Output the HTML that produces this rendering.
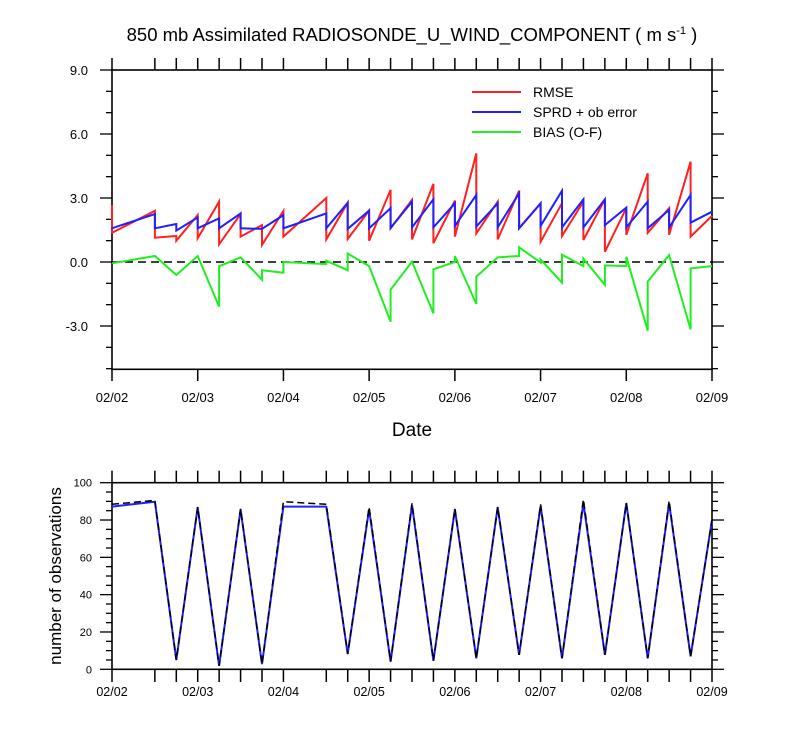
<!DOCTYPE html>
<html><head><meta charset="utf-8"><style>
html,body{margin:0;padding:0;background:#fff;}
svg{display:block;font-family:"Liberation Sans",sans-serif;}
</style></head><body>
<svg id="chart" width="800" height="750" xmlns="http://www.w3.org/2000/svg">
<text x="412" y="41" font-size="18.5" text-anchor="middle">850 mb Assimilated RADIOSONDE_U_WIND_COMPONENT ( m s<tspan dy="-7" font-size="11">-1</tspan><tspan dy="7"> )</tspan></text>
<text x="412" y="436" font-size="19" text-anchor="middle">Date</text>
<text x="0" y="0" font-size="17" text-anchor="middle" transform="translate(61,576) rotate(-90)">number of observations</text>
<g>
<line x1="472" y1="92" x2="521" y2="92" stroke="#ff2020" stroke-width="2"/>
<text x="533" y="97" font-size="14">RMSE</text>
<line x1="472" y1="112" x2="521" y2="112" stroke="#2020ff" stroke-width="2"/>
<text x="533" y="117" font-size="14">SPRD + ob error</text>
<line x1="472" y1="132" x2="521" y2="132" stroke="#20ee20" stroke-width="2"/>
<text x="533" y="137" font-size="14">BIAS (O-F)</text>
</g>
</svg>
<script>
const timeIdx=[0,2,3,4,5,6,7,8,10,11,12,13,14,15,16,17,18,19,20,21,22,23,24,25,26,27,28];
const rmseIn=[2.67,2.4,1.22,2.2,2.83,2.25,1.73,2.39,3.0,2.78,2.41,3.38,2.91,3.66,2.88,5.09,2.83,3.34,2.75,2.75,2.83,2.94,2.52,4.16,2.52,4.7,2.16];
const rmseOut=[1.37,1.14,1.0,1.11,0.83,1.19,0.8,1.19,1.06,1.08,1.0,1.58,1.06,0.88,1.19,1.34,1.06,1.58,0.95,1.22,1.03,0.48,1.27,1.37,1.27,1.19,2.16];
const sprdIn=[1.6,2.25,1.78,2.09,2.05,2.28,1.55,2.2,2.28,2.78,2.41,2.52,2.83,2.94,2.75,3.14,2.75,3.22,2.75,3.34,2.94,2.94,2.55,2.83,2.44,3.14,2.36];
const sprdOut=[1.58,1.58,1.47,1.58,1.58,1.58,1.55,1.58,1.58,1.55,1.58,1.6,1.62,1.62,1.69,1.66,1.62,1.58,1.69,1.62,1.62,1.73,1.62,1.58,1.62,1.84,2.36];
const biasIn=[-0.06,0.28,-0.61,0.28,-2.09,0.22,-0.83,-0.5,-0.1,-0.39,-0.19,-2.8,0.02,-2.41,0.0,-1.97,0.22,0.28,-0.03,-0.97,-0.19,-1.08,-0.19,-3.22,0.33,-3.16,-0.19];
const biasOut=[-0.06,0.28,-0.61,0.28,-0.2,0.22,-0.39,0.0,0.06,0.4,-0.19,-1.3,0.02,-0.34,0.28,-0.69,0.22,0.69,0.12,0.34,0.16,-0.16,0.25,-0.92,0.33,-0.3,-0.19];
const obsUsed=[87.2,89.8,5,86.8,1.8,85.7,2.8,87.2,87.2,8.2,85.7,4.1,88,4.6,85.7,5.9,86.8,7.7,87.5,5.9,89,7.7,89,5.9,89,6.9,80];
const obsTotal=[88.4,90.5,5,87,1.8,86,2.8,89.8,88.4,8.2,87,4.1,89,4.6,86,5.9,87,7.7,88.4,5.9,91.1,7.7,89.2,5.9,90.3,6.9,80];
const dayLabels=["02/02","02/03","02/04","02/05","02/06","02/07","02/08","02/09"];
const topTicks=[9,6,3,0,-3];
const botTicks=[0,20,40,60,80,100];

const svg=document.getElementById('chart');
const NS='http://www.w3.org/2000/svg';
const X0=112,X1=712;
function xs(i){return X0+(X1-X0)*i/28;}
function yTop(v){return 262-(v)*(64/3);}
function yBot(v){return 669.3-v*1.866;}
function mk(tag,attrs,parent){const e=document.createElementNS(NS,tag);for(const k in attrs)e.setAttribute(k,attrs[k]);(parent||svg).appendChild(e);return e;}

function frame(name,yT,yB){
  const g=mk('g',{});
  
  
  mk('rect',{x:X0,y:yT,width:X1-X0,height:yB-yT,fill:'none',stroke:'#000','stroke-width':1.6},g);
  timeIdx.forEach(i=>{mk('line',{x1:xs(i),y1:yT,x2:xs(i),y2:yT-12,stroke:'#000','stroke-width':1.5},g);});
  return g;
}
const gT=frame('top-plot-frame',70,369.3);
for(let v=-5;v<=9;v++){
  const len=(v%3===0)?12:6;
  mk('line',{x1:X0,y1:yTop(v),x2:X0-len,y2:yTop(v),stroke:'#000','stroke-width':1.3},gT);
  mk('line',{x1:X1,y1:yTop(v),x2:X1+len,y2:yTop(v),stroke:'#000','stroke-width':1.3},gT);
}
topTicks.forEach(v=>{
  const t=mk('text',{x:88,y:yTop(v)+5,'font-size':13,'text-anchor':'end'});
  
  
  t.textContent=v.toFixed(1);
});
dayLabels.forEach((d,k)=>{
  const x=X0+k*(X1-X0)/7;
  mk('line',{x1:x,y1:369.3,x2:x,y2:381,stroke:'#000','stroke-width':1.5},gT);
  const t=mk('text',{x:x,y:402,'font-size':13,'text-anchor':'middle'});
  
  
  t.textContent=d;
});
const zl=mk('line',{x1:X0,y1:yTop(0),x2:X1,y2:yTop(0),stroke:'#000','stroke-width':1.5,'stroke-dasharray':'8,5'});



function sawPath(inA,outA,ys){
  let d='';
  timeIdx.forEach((i,k)=>{
    const x=xs(i).toFixed(1);
    d+=(k===0?'M':'L')+x+','+ys(inA[k]).toFixed(1);
    d+='L'+x+','+ys(outA[k]).toFixed(1);
  });
  return d;
}
const pR=mk('path',{d:sawPath(rmseIn,rmseOut,yTop),fill:'none',stroke:'#ff2020','stroke-width':2});


const pS=mk('path',{d:sawPath(sprdIn,sprdOut,yTop),fill:'none',stroke:'#2020ff','stroke-width':2});


const pB=mk('path',{d:sawPath(biasIn,biasOut,yTop),fill:'none',stroke:'#20ee20','stroke-width':2});



const gB=frame('bottom-plot-frame',482.7,669.3);
for(let v=0;v<=100;v+=5){
  const len=(v%20===0)?12:6;
  mk('line',{x1:X0,y1:yBot(v),x2:X0-len,y2:yBot(v),stroke:'#000','stroke-width':1.3},gB);
  mk('line',{x1:X1,y1:yBot(v),x2:X1+len,y2:yBot(v),stroke:'#000','stroke-width':1.3},gB);
}
botTicks.forEach(v=>{
  const t=mk('text',{x:92,y:yBot(v)+4,'font-size':11,'text-anchor':'end'});
  
  
  t.textContent=v;
});
timeIdx.forEach(i=>{mk('line',{x1:xs(i),y1:669.3,x2:xs(i),y2:682,stroke:'#000','stroke-width':1.5},gB);});
dayLabels.forEach((d,k)=>{
  const x=X0+k*(X1-X0)/7;
  const t=mk('text',{x:x,y:696,'font-size':12.5,'text-anchor':'middle'});
  
  
  t.textContent=d;
});
function linePath(arr){
  return timeIdx.map((i,k)=>(k===0?'M':'L')+xs(i).toFixed(1)+','+yBot(arr[k]).toFixed(1)).join('');
}
const pU=mk('path',{d:linePath(obsUsed),fill:'none',stroke:'#2020ff','stroke-width':2});


const pT=mk('path',{d:linePath(obsTotal),fill:'none',stroke:'#000','stroke-width':1.5,'stroke-dasharray':'7,4'});


</script>
</body></html>
